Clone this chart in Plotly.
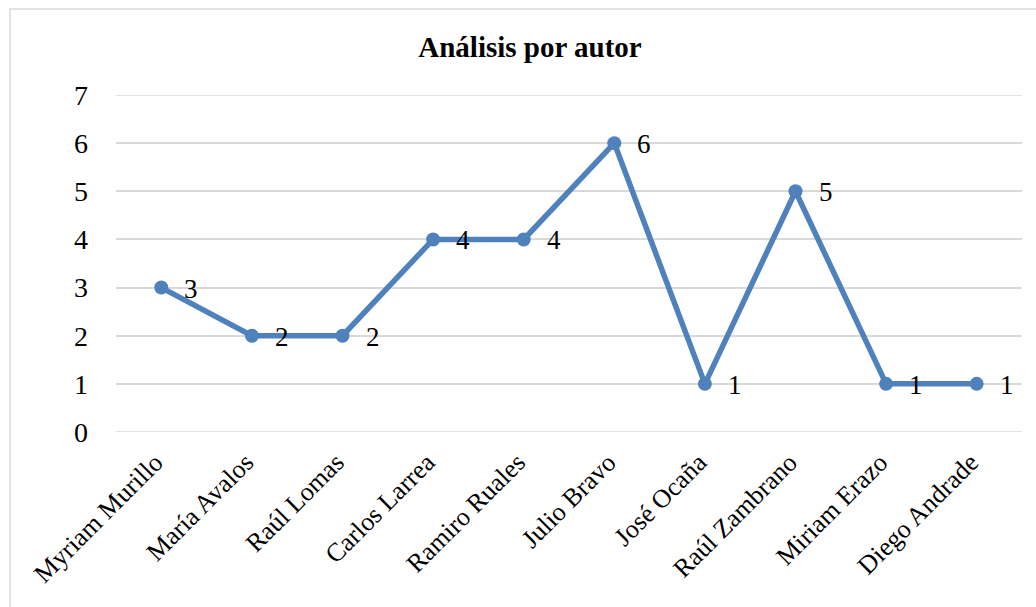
import plotly.graph_objects as go

autores = ["Myriam Murillo", "María Avalos", "Raúl Lomas", "Carlos Larrea", "Ramiro Ruales",
           "Julio Bravo", "José Ocaña", "Raúl Zambrano", "Miriam Erazo", "Diego Andrade"]
valores = [3, 2, 2, 4, 4, 6, 1, 5, 1, 1]
y_ticks = [0, 1, 2, 3, 4, 5, 6, 7]

W, H = 1036, 607
L, R, T, B = 116, 14, 95, 175
pw = W - L - R
ph = H - T - B

fig = go.Figure()

# gridlines at the range edges (plotly culls them)
for yv in (y_ticks[0], y_ticks[-1]):
    fig.add_hline(y=yv, line=dict(color="#D9D9D9", width=1.5), layer="below")

fig.add_trace(go.Scatter(
    x=autores, y=valores, mode="lines+markers",
    line=dict(color="#4F81BD", width=5.5),
    marker=dict(color="#4F81BD", size=14),
    cliponaxis=False, showlegend=False,
))

for a, v in zip(autores, valores):
    fig.add_annotation(x=a, y=v, text=str(v), showarrow=False, xshift=30, yshift=-1,
                       font=dict(family="Liberation Serif", size=27, color="#000000"))

# chart border
fig.add_shape(type="rect", xref="paper", yref="paper",
              x0=(10 - L) / pw, x1=(W + 5 - L) / pw,
              y0=-(H + 5 - T - ph) / ph, y1=1 + (T - 9) / ph,
              line=dict(color="#D9D9D9", width=1.5), layer="below")

fig.update_layout(
    width=W, height=H,
    margin=dict(l=L, r=R, t=T, b=B),
    paper_bgcolor="white", plot_bgcolor="white",
    font=dict(family="Liberation Serif", color="#000000"),
    title=dict(text="<b>Análisis por autor</b>", x=530 / W, xref="container", xanchor="center",
               y=1 - 47 / H, yref="container", yanchor="middle",
               font=dict(family="Liberation Serif", size=29, color="#000000")),
)
fig.update_xaxes(showgrid=False, showline=False, ticks="", tickangle=-45,
                 tickfont=dict(family="Liberation Serif", size=26, color="#000000"),
                 range=[-0.5, 9.5], automargin=False, ticklabelshift=-6, ticklabelstandoff=9)
fig.update_yaxes(range=[0, 7], tickvals=y_ticks, showgrid=True, gridcolor="#D9D9D9", gridwidth=1.5,
                 zeroline=False, showline=False, ticks="", ticklabelstandoff=27, automargin=False,
                 tickfont=dict(family="Liberation Serif", size=28, color="#000000"))

fig.write_html("out.html", config={"displayModeBar": False},
               post_script="document.body.style.margin='0';")
